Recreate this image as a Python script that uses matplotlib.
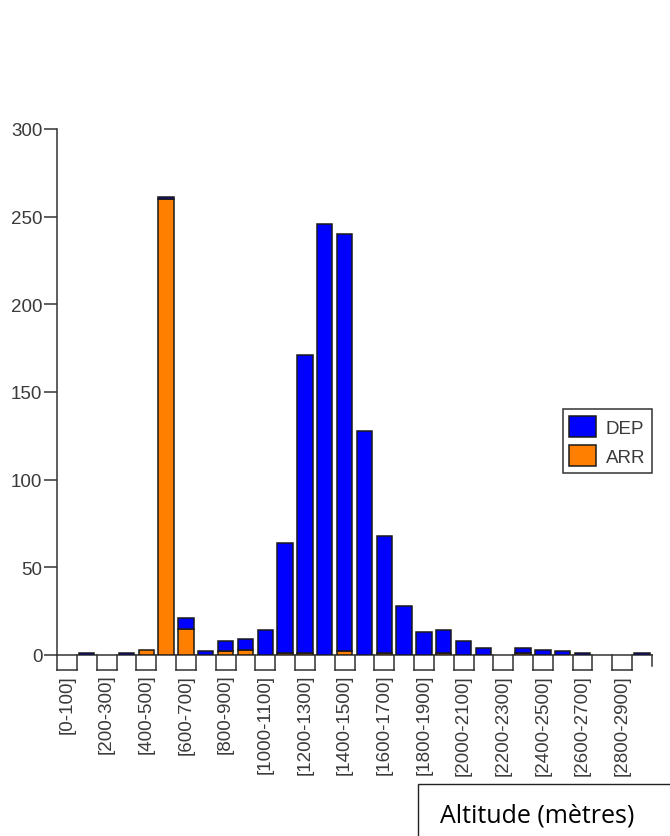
import matplotlib
matplotlib.use("Agg")
import matplotlib.pyplot as plt
from matplotlib.patches import Patch, Rectangle
import numpy as np

# Altitude classes (metres)
labels = ["[0-100]", "[100-200]", "[200-300]", "[300-400]", "[400-500]",
          "[500-600]", "[600-700]", "[700-800]", "[800-900]", "[900-1000]",
          "[1000-1100]", "[1100-1200]", "[1200-1300]", "[1300-1400]", "[1400-1500]",
          "[1500-1600]", "[1600-1700]", "[1700-1800]", "[1800-1900]", "[1900-2000]",
          "[2000-2100]", "[2100-2200]", "[2200-2300]", "[2300-2400]", "[2400-2500]",
          "[2500-2600]", "[2600-2700]", "[2700-2800]", "[2800-2900]", "[2900-3000]"]

# Counts per class: departures (DEP) stacked on arrivals (ARR)
arr = [0, 0, 0, 0, 3, 260, 15, 0, 2, 3,
       0, 1, 1, 0, 2, 0, 1, 0, 0, 1,
       0, 0, 0, 1, 0, 0, 0, 0, 0, 0]
dep = [0, 1, 0, 1, 0, 1, 6, 2, 6, 6,
       14, 63, 170, 246, 238, 128, 67, 28, 13, 13,
       8, 4, 0, 3, 3, 2, 1, 0, 0, 1]

yticks = [0, 50, 100, 150, 200, 250, 300]

W, H = 670, 837
fig = plt.figure(figsize=(W / 100, H / 100), dpi=100)
fig.patch.set_facecolor("white")

ax_l, ax_r, ax_t, ax_b = 57, 652, 130, 656
ax = fig.add_axes([ax_l / W, 1 - ax_b / H, (ax_r - ax_l) / W, (ax_b - ax_t) / H])

BLUE = "#0000FF"
ORANGE = "#FF8000"
EDGE = "#1a1a1a"
AXC = "#333333"
TXT = "#3a3a3a"

x = np.arange(len(labels))
arr_a = np.array(arr)
dep_a = np.array(dep)
bw = 0.78

m = arr_a > 0
ax.bar(x[m], arr_a[m], width=bw, color=ORANGE, edgecolor=EDGE, linewidth=1.1, zorder=3)
m = dep_a > 0
ax.bar(x[m], dep_a[m], bottom=arr_a[m], width=bw, color=BLUE, edgecolor=EDGE,
       linewidth=1.1, zorder=3)

ax.set_xlim(-0.5, len(labels) - 0.5)
ax.set_ylim(0, 300)

for s in ("top", "right"):
    ax.spines[s].set_visible(False)
for s in ("left", "bottom"):
    ax.spines[s].set_color(AXC)
    ax.spines[s].set_linewidth(1.1)

font = "Liberation Sans"
ax.set_yticks(yticks)
ax.set_yticklabels([str(v) for v in yticks], fontsize=13.5, color=TXT, family=font)
ax.tick_params(axis="y", length=9.5, width=1.1, color=AXC, pad=1)

ax.set_xticks(x[::2])
ax.set_xticklabels(labels[::2], rotation=90, fontsize=13.5, color=TXT, family=font)
ax.tick_params(axis="x", length=0, pad=13.5)

# Bracket-style category ticks below the axis
ah = ax_b - ax_t
tl = 15 / ah
tr = ax.get_xaxis_transform()
for k in range(len(labels)):
    b = k - 0.5
    ax.plot([b, b], [0, -tl], color=AXC, lw=1.1, transform=tr, clip_on=False)
    if k % 2 == 0:
        ax.plot([b, b + 1], [-tl, -tl], color=AXC, lw=1.1, transform=tr, clip_on=False)
end = len(labels) - 0.5
ax.plot([end, end], [0, -11 / ah], color=AXC, lw=1.1, transform=tr, clip_on=False)

handles = [Patch(facecolor=BLUE, edgecolor=EDGE, linewidth=1.1),
           Patch(facecolor=ORANGE, edgecolor=EDGE, linewidth=1.1)]
leg = ax.legend(handles, ["DEP", "ARR"], loc="center right",
                bbox_to_anchor=(1.0, (ax_b - 442) / ah), borderaxespad=0,
                prop={"family": font, "size": 13.5}, frameon=True, fancybox=False,
                framealpha=1, edgecolor=AXC, handlelength=1.4, handleheight=1.4,
                labelspacing=0.4, borderpad=0.35, handletextpad=0.55)
leg.get_frame().set_linewidth(1.1)
for t in leg.get_texts():
    t.set_color(TXT)

# Axis title in a box at the lower right
box_top = 785
fig.add_artist(Rectangle((418 / W, -0.1), 1.0, (1 - box_top / H) + 0.1,
                         transform=fig.transFigure, fill=False,
                         edgecolor="#222222", linewidth=1.0))
fig.text(440 / W, 1 - 823 / H, "Altitude (mètres)", fontsize=18,
         family="Open Sans", color="black", va="baseline", ha="left")

fig.savefig("out.png", dpi=100)
